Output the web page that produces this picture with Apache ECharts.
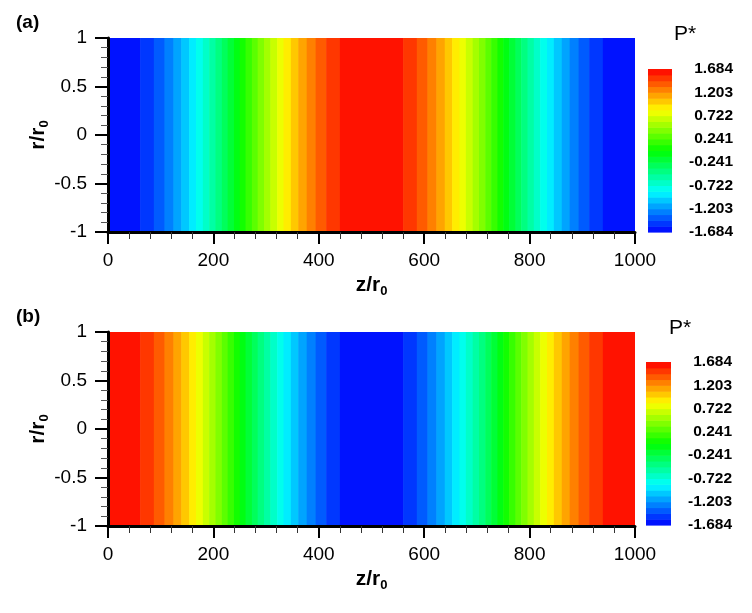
<!DOCTYPE html>
<html>
<head>
<meta charset="utf-8">
<script src="https://cdn.jsdelivr.net/npm/echarts@6/dist/echarts.min.js"></script>
<style>
html,body{margin:0;padding:0;background:#fff;}
#chart{width:752px;height:613px;}
</style>
</head>
<body>
<div id="chart"></div>
<script>
// ---- data ----
// band edges along z/r0 (same positions for both panels)
const zEdgesA = [0, 61, 87, 107, 124, 139, 154, 167, 180, 192, 204, 216, 227, 239, 250, 261, 273, 284, 296, 308, 321, 333, 347, 361, 377, 394, 414, 440,
                 560, 586, 606, 623, 639, 653, 667, 679, 692, 704, 716, 727, 739, 750, 761, 773, 784, 796, 808, 820, 833, 846, 861, 876, 893, 913, 939, 1000];
const zEdgesB = [0, 61, 87, 107, 124, 139, 154, 167, 180, 192, 204, 216, 227, 239, 250, 261, 273, 284, 296, 308, 321, 333, 347, 361, 377, 394, 414, 440,
                 560, 586, 606, 623, 639, 653, 667, 679, 692, 704, 716, 727, 739, 750, 761, 773, 784, 796, 808, 820, 833, 846, 861, 876, 893, 913, 939, 1000];
// P* value of each band (panel a: minimum at the ends, maximum in the middle)
const bandPA = [-1.624, -1.503, -1.383, -1.263, -1.143, -1.022, -0.902, -0.782, -0.662, -0.541, -0.421, -0.301, -0.180, -0.060,
                0.060, 0.180, 0.301, 0.421, 0.541, 0.662, 0.782, 0.902, 1.022, 1.143, 1.263, 1.383, 1.503, 1.624,
                1.503, 1.383, 1.263, 1.143, 1.022, 0.902, 0.782, 0.662, 0.541, 0.421, 0.301, 0.180, 0.060,
                -0.060, -0.180, -0.301, -0.421, -0.541, -0.662, -0.782, -0.902, -1.022, -1.143, -1.263, -1.383, -1.503, -1.624];
// panel b: maximum at the ends, minimum in the middle
const bandPB = [1.624, 1.503, 1.383, 1.263, 1.143, 1.022, 0.902, 0.782, 0.662, 0.541, 0.421, 0.301, 0.180, 0.060,
                -0.060, -0.180, -0.301, -0.421, -0.541, -0.662, -0.782, -0.902, -1.022, -1.143, -1.263, -1.383, -1.503, -1.624,
                -1.503, -1.383, -1.263, -1.143, -1.022, -0.902, -0.782, -0.662, -0.541, -0.421, -0.301, -0.180, -0.060,
                0.060, 0.180, 0.301, 0.421, 0.541, 0.662, 0.782, 0.902, 1.022, 1.143, 1.263, 1.383, 1.503, 1.624];
// contour levels of the legend
const contourLevels = [-1.684, -1.5637, -1.4434, -1.3231, -1.2029, -1.0826, -0.9623, -0.842, -0.7217, -0.6014, -0.4811, -0.3609, -0.2406, -0.1203,
                       0, 0.1203, 0.2406, 0.3609, 0.4811, 0.6014, 0.7217, 0.842, 0.9623, 1.0826, 1.2029, 1.3231, 1.4434, 1.5637, 1.684];
const legendTicks = [-1.684, -1.203, -0.722, -0.241, 0.241, 0.722, 1.203, 1.684];
const legendLabels = ['-1.684', '-1.203', '-0.722', '-0.241', '0.241', '0.722', '1.203', '1.684'];
const xTicks = [0, 200, 400, 600, 800, 1000];
const yTicks = [-1, -0.5, 0, 0.5, 1];

// ---- colour map (blue - cyan - green - yellow - red) ----
const stops = [[0, [0, 0, 255]], [0.25, [0, 255, 255]], [0.5, [0, 255, 0]], [0.75, [255, 255, 0]], [1, [255, 0, 0]]];
function cmap(t) {
  for (let i = 1; i < stops.length; i++) {
    if (t <= stops[i][0]) {
      const a = stops[i - 1], b = stops[i];
      const f = (t - a[0]) / (b[0] - a[0]);
      const c = a[1].map((v, j) => Math.round(v + (b[1][j] - v) * f));
      return 'rgb(' + c.join(',') + ')';
    }
  }
  return 'rgb(255,0,0)';
}
const nLev = contourLevels.length - 1;
const pieces = [];
for (let k = 0; k < nLev; k++) {
  pieces.push({ gte: contourLevels[k], lt: contourLevels[k + 1] + (k === nLev - 1 ? 1 : 0), color: cmap((k + 0.5) / nLev) });
}

function bands(edges, vals) {
  const out = [];
  for (let i = 0; i < vals.length; i++) out.push([edges[i], edges[i + 1], vals[i]]);
  return out;
}
function legendCells() {
  const out = [];
  for (let k = 0; k < nLev; k++) out.push([contourLevels[k], contourLevels[k + 1], (contourLevels[k] + contourLevels[k + 1]) / 2]);
  return out;
}

const FONT = 'Liberation Sans, Arial, sans-serif';

function bandRender(params, api) {
  const p0 = api.coord([api.value(0), 1]);
  const p1 = api.coord([api.value(1), -1]);
  return { type: 'rect', shape: { x: p0[0], y: p0[1], width: p1[0] - p0[0] + 0.6, height: p1[1] - p0[1] },
           style: { fill: api.visual('color') } };
}
function legendRender(params, api) {
  const p0 = api.coord([0, api.value(1)]);
  const p1 = api.coord([1, api.value(0)]);
  return { type: 'rect', shape: { x: p0[0], y: p0[1], width: p1[0] - p0[0], height: p1[1] - p0[1] + 0.6 },
           style: { fill: api.visual('color') } };
}

function nameRich() {
  return { rich: { n: { fontFamily: FONT, fontSize: 21, fontWeight: 'bold', color: '#000' },
                   s: { fontFamily: FONT, fontSize: 13, fontWeight: 'bold', color: '#000', padding: [13, 0, 0, 0] } } };
}
function mainX(gi) {
  return {
    gridIndex: gi, type: 'value', min: 0, max: 1000, interval: 200, z: 10,
    name: '{n|z/r}{s|0}', nameLocation: 'middle', nameGap: 40, nameMoveOverlap: false,
    nameTextStyle: nameRich(),
    axisLine: { show: true, onZero: false, lineStyle: { color: '#000', width: 3 } },
    axisTick: { show: true, length: 12, lineStyle: { color: '#000', width: 2 } },
    minorTick: { show: true, splitNumber: 5, length: 7, lineStyle: { color: '#333', width: 1 } },
    axisLabel: { fontFamily: FONT, fontSize: 19, color: '#000', margin: 19, formatter: v => String(v) },
    splitLine: { show: false }
  };
}
function mainY(gi) {
  return {
    gridIndex: gi, type: 'value', min: -1, max: 1, interval: 0.5, z: 10,
    name: '{n|r/r}{s|0}', nameLocation: 'middle', nameGap: 57, nameRotate: 90, nameMoveOverlap: false,
    nameTextStyle: nameRich(),
    axisLine: { show: true, onZero: false, lineStyle: { color: '#000', width: 3 } },
    axisTick: { show: true, length: 13, lineStyle: { color: '#000', width: 2 } },
    minorTick: { show: true, splitNumber: 5, length: 7, lineStyle: { color: '#555', width: 1 } },
    axisLabel: { fontFamily: FONT, fontSize: 19, color: '#000', margin: 21, formatter: v => String(v) },
    splitLine: { show: false }
  };
}
function legendX(gi) {
  return { gridIndex: gi, type: 'value', min: 0, max: 1, show: false };
}
function legendY(gi) {
  return {
    gridIndex: gi, type: 'value', min: -1.684, max: 1.684, position: 'right',
    axisLine: { show: false }, axisTick: { show: false }, splitLine: { show: false },
    axisLabel: { show: true, customValues: legendTicks, align: 'right', margin: 61,
                 fontFamily: FONT, fontSize: 15.5, fontWeight: 'bold', color: '#000',
                 formatter: v => legendLabels[legendTicks.findIndex(t => Math.abs(t - v) < 1e-6)] }
  };
}

const option = {
  animation: false,
  backgroundColor: '#fff',
  grid: [
    { left: 108, top: 38, width: 527, height: 194 },
    { left: 108, top: 332, width: 527, height: 194 },
    { left: 648, top: 69, width: 24, height: 163 },
    { left: 646, top: 362, width: 25, height: 163 }
  ],
  xAxis: [mainX(0), mainX(1), legendX(2), legendX(3)],
  yAxis: [mainY(0), mainY(1), legendY(2), legendY(3)],
  visualMap: {
    type: 'piecewise', show: false, dimension: 2, seriesIndex: [0, 1, 2, 3], pieces: pieces
  },
  series: [
    { type: 'custom', xAxisIndex: 0, yAxisIndex: 0, data: bands(zEdgesA, bandPA), renderItem: bandRender, encode: { x: [0, 1] }, clip: true },
    { type: 'custom', xAxisIndex: 1, yAxisIndex: 1, data: bands(zEdgesB, bandPB), renderItem: bandRender, encode: { x: [0, 1] }, clip: true },
    { type: 'custom', xAxisIndex: 2, yAxisIndex: 2, data: legendCells(), renderItem: legendRender, encode: { y: [0, 1] } },
    { type: 'custom', xAxisIndex: 3, yAxisIndex: 3, data: legendCells(), renderItem: legendRender, encode: { y: [0, 1] } }
  ],
  graphic: [
    { type: 'text', left: 16, top: 13, style: { text: '(a)', font: 'bold 19px ' + FONT, fill: '#000' } },
    { type: 'text', left: 16, top: 307, style: { text: '(b)', font: 'bold 19px ' + FONT, fill: '#000' } },
    { type: 'text', left: 674, top: 24, style: { text: 'P*', font: '21px ' + FONT, fill: '#000' } },
    { type: 'text', left: 669, top: 318, style: { text: 'P*', font: '21px ' + FONT, fill: '#000' } }
  ]
};
const chart = echarts.init(document.getElementById('chart'));
chart.setOption(option);
</script>
</body>
</html>
